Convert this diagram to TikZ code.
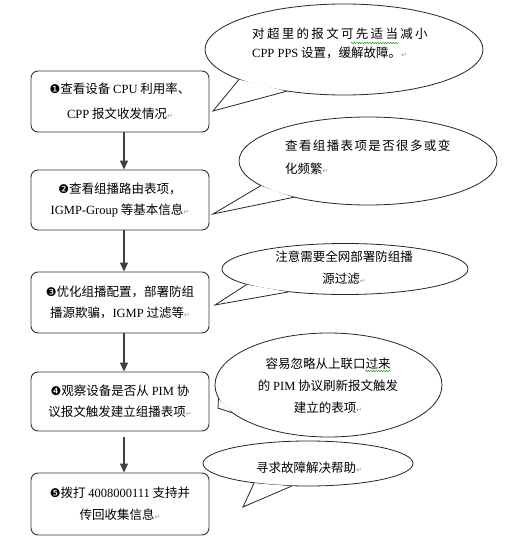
\documentclass[tikz,border=0pt]{standalone}
\usepackage{fontspec}
\setmainfont{Liberation Serif}
\newfontfamily\cjk{Noto Sans CJK SC}
\newfontfamily\dvs{DejaVu Sans}
\usetikzlibrary{shapes.geometric,arrows.meta,decorations.pathmorphing}
\newcommand\lat[1]{{\rmfamily #1}}
\newcommand\ret{{\dvs\fontsize{7}{7}\selectfont\textcolor{black!40}{↵}}}
\newcommand\cnum[1]{{\dvs\fontsize{12}{12}\selectfont #1}}
\begin{document}
\begin{tikzpicture}[x=1pt,y=-1pt,
  stepbox/.style={draw=black!80, line width=0.9pt, rounded corners=7pt, minimum width=178pt,
    inner sep=0pt, fill=white, align=center, font=\cjk\fontsize{12.5}{21.5}\selectfont},
  bubble/.style={ellipse, draw=black!85, line width=0.8pt, fill=white, inner sep=0pt},
  bubtext/.style={inner sep=0pt, font=\cjk\fontsize{12.5}{22}\selectfont},
  pointer/.style={draw=black!85, line width=0.8pt, line join=miter},
  pointerfill/.style={fill=white},
  flow/.style={draw=black!75, line width=1.2pt, -{Triangle[length=9pt,width=8pt]}},
  squig/.style={draw=green!55!black, line width=0.4pt, decorate,
    decoration={snake, amplitude=0.7pt, segment length=2.6pt}}]
\useasboundingbox (0,0) rectangle (511,551);
\fill[white] (0,0) rectangle (511,551);

% step boxes
\node[stepbox, minimum height=61pt, font=\cjk\fontsize{12.5}{25}\selectfont] (b1) at (120,101.5)
  {\cnum{❶}查看设备 \lat{CPU} 利用率、\\\lat{CPP} 报文收发情况\ret};
\node[stepbox, minimum height=60pt] (b2) at (120,200)
  {\cnum{❷}查看组播路由表项，\\\lat{IGMP-Group} 等基本信息\ret};
\node[stepbox, minimum height=61pt] (b3) at (120,302.5)
  {\cnum{❸}优化组播配置，部署防组\\播源欺骗，\lat{IGMP} 过滤等\ret};
\node[stepbox, minimum height=59pt, font=\cjk\fontsize{12.5}{20.5}\selectfont] (b4) at (120,401.5)
  {\cnum{❹}观察设备是否从 \lat{PIM} 协\\议报文触发建立组播表项\ret};
\node[stepbox, minimum height=62pt, font=\cjk\fontsize{12.5}{22}\selectfont] (b5) at (120,504)
  {\cnum{❺}拨打 \lat{4008000111} 支持并\\传回收集信息\ret};

% flow arrows
\draw[flow] ([xshift=4pt]b1.south) -- ([xshift=4pt]b2.north);
\draw[flow] ([xshift=4pt]b2.south) -- ([xshift=4pt]b3.north);
\draw[flow] ([xshift=4pt]b3.south) -- ([xshift=4pt]b4.north);
\draw[flow] ([xshift=4pt,yshift=-6pt]b4.south) -- ([xshift=4pt]b5.north);

% bubbles
\node[bubble, minimum width=278pt, minimum height=91pt] (e1) at (344,49.5) {};
\node[bubble, minimum width=258pt, minimum height=88pt] (e2) at (368,161) {};
\node[bubble, minimum width=246pt, minimum height=51pt] (e3) at (345,269) {};
\node[bubble, minimum width=227pt, minimum height=104pt] (e4) at (328.5,385) {};
\node[bubble, minimum width=210pt, minimum height=45pt] (e5) at (308,463.5) {};

% pointer tips
\coordinate (p1) at (213,111);
\coordinate (p2) at (213,214);
\coordinate (p3) at (215,305);
\coordinate (p4) at (218,408);
\coordinate (p5) at (243,507);

\fill[pointerfill] (e1.196.6) -- (p1) -- (e1.216.7) -- cycle;
\draw[pointer] (e1.196.6) -- (p1) -- (e1.216.7);
\fill[pointerfill] (e2.193.8) -- (p2) -- (e2.206.3) -- cycle;
\draw[pointer] (e2.193.8) -- (p2) -- (e2.206.3);
\fill[pointerfill] (e3.189) -- (p3) -- (e3.202) -- cycle;
\draw[pointer] (e3.189) -- (p3) -- (e3.202);
\fill[pointerfill] (e4.187.6) -- (p4) -- (e4.196.1) -- cycle;
\draw[pointer] (e4.187.6) -- (p4) -- (e4.196.1);
\fill[pointerfill] (e5.200.2) -- (p5) -- (e5.234.2) -- cycle;
\draw[pointer] (e5.200.2) -- (p5) -- (e5.234.2);

% bubble texts
\node[bubtext, align=left, anchor=west, font=\cjk\fontsize{12.5}{19}\selectfont] (q1) at (252,43.5)
  {{\addfontfeature{LetterSpace=18.5}对超里的报文可先适当减小}\\\lat{CPP PPS} 设置，缓解故障。\ret};
\node[bubtext, align=left, anchor=west, font=\cjk\fontsize{12.5}{23}\selectfont] (q2) at (285,157)
  {{\addfontfeature{LetterSpace=11}查看组播表项是否很多或变}\\化频繁\ret};
\node[bubtext, align=center] (q3) at (344,268)
  {注意需要全网部署防组播\\源过滤\ret};
\node[bubtext, align=center, font=\cjk\fontsize{12.5}{22}\selectfont] (q4) at (328,386)
  {容易忽略从上联口过来\\的 \lat{PIM} 协议刷新报文触发\\建立的表项\ret};
\node[bubtext] (q5) at (309,468) {寻求故障解决帮助\ret};

% spell-check squiggles
\draw[squig] (351,43) -- (399,43);
\draw[squig] (365,371) -- (391,371);
\end{tikzpicture}
\end{document}
